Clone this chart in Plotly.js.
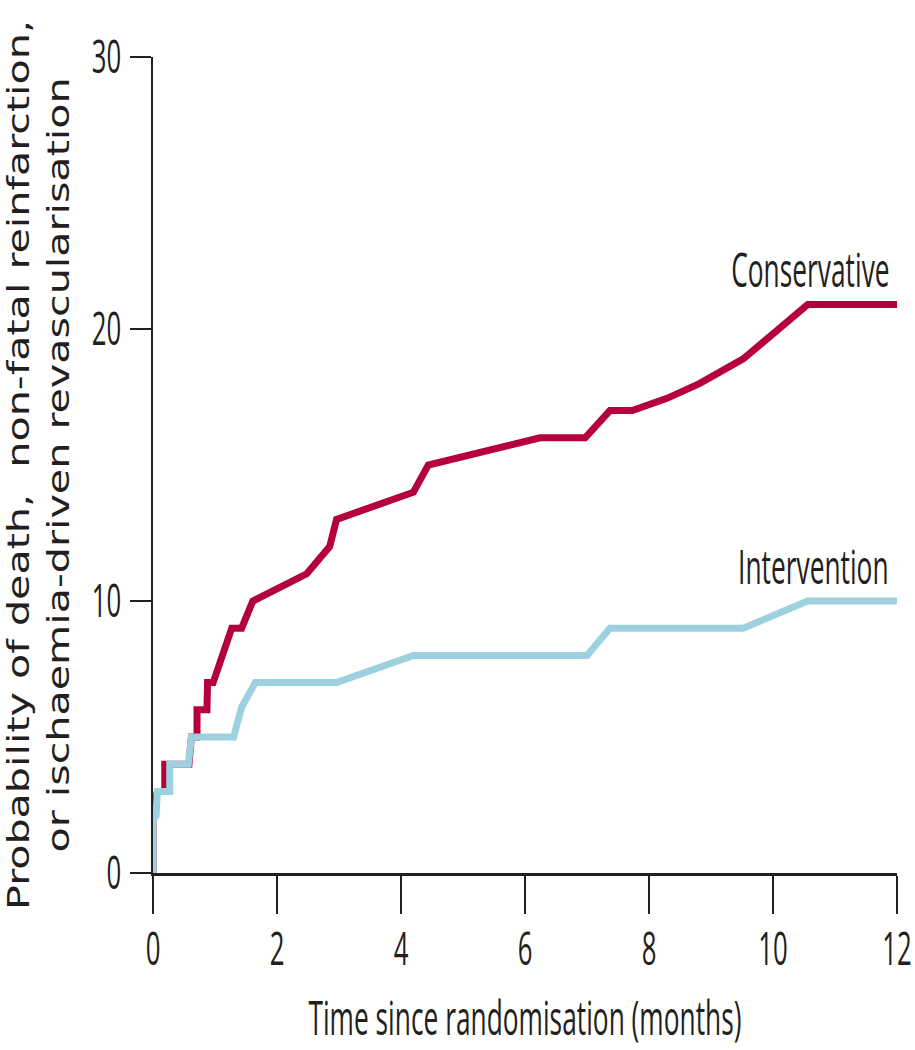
<!DOCTYPE html>
<html>
<head>
<meta charset="utf-8">
<script src="https://cdn.plot.ly/plotly-3.0.1.min.js"></script>
<style>
  html, body { margin: 0; padding: 0; background: #ffffff; }
  #chart { width: 915px; height: 1050px; }
</style>
</head>
<body>
<div id="chart"></div>
<script>
// Kaplan-Meier style cumulative event curves (%), time in months
const consTime = [0, 0, 0.07, 0.19, 0.19, 0.58, 0.62, 0.71, 0.71, 0.87, 0.88, 0.97, 1.27, 1.43, 1.61, 2.48, 2.85, 2.96, 4.2, 4.44, 6.24, 6.97, 7.37, 7.73, 8.29, 8.82, 9.52, 10.56, 12];
const consRisk = [0, 2.2, 3.0, 3.0, 4.0, 4.0, 5.0, 5.0, 6.0, 6.0, 7.0, 7.0, 9.0, 9.0, 10.0, 11.0, 12.0, 13.0, 14.0, 15.0, 16.0, 16.0, 17.0, 17.0, 17.45, 18.0, 18.9, 20.9, 20.9];

const intTime = [0, 0, 0.05, 0.07, 0.27, 0.27, 0.57, 0.62, 1.3, 1.43, 1.65, 2.96, 4.2, 7.0, 7.37, 9.52, 10.56, 12];
const intRisk = [0, 2.0, 2.1, 3.0, 3.0, 4.0, 4.0, 5.0, 5.0, 6.1, 7.0, 7.0, 8.0, 8.0, 9.0, 9.0, 10.0, 10.0];

const xTicks = [0, 2, 4, 6, 8, 10, 12];
const yTicks = [0, 10, 20, 30];

const groupNames = ['Conservative', 'Intervention'];
const groupLabelPos = [[10.6, 22.2], [10.65, 11.3]];

const RED = '#b5003b';
const BLUE = '#9dd1e0';
const INK = '#231f20';
const NARROW = 'Open Sans, Noto Sans, sans-serif';

const traces = [
  { x: consTime, y: consRisk, name: groupNames[0], mode: 'lines',
    line: { color: RED, width: 7, shape: 'linear' }, hoverinfo: 'x+y' },
  { x: intTime, y: intRisk, name: groupNames[1], mode: 'lines',
    line: { color: BLUE, width: 7, shape: 'linear' }, hoverinfo: 'x+y' }
];

const axisCommon = {
  showgrid: false, zeroline: false, showline: true,
  linecolor: INK, linewidth: 2.5,
  ticks: 'outside', tickcolor: INK, tickwidth: 2.5,
  tickfont: { family: NARROW, size: 46, color: INK },
  ticklabeloverflow: 'allow',
  layer: 'below traces', fixedrange: true
};

const layout = {
  width: 915, height: 1050,
  margin: { l: 153, r: 18, t: 57, b: 177 },
  paper_bgcolor: '#ffffff', plot_bgcolor: '#ffffff',
  showlegend: false,
  xaxis: Object.assign({}, axisCommon, {
    range: [0, 12], tickvals: xTicks, ticktext: xTicks.map(String),
    ticklen: 38, ticklabelstandoff: -4,
    title: { text: 'Time since randomisation (months)', standoff: 26,
             font: { family: NARROW, size: 47, color: INK } }
  }),
  yaxis: Object.assign({}, axisCommon, {
    range: [0, 30], tickvals: yTicks, ticktext: yTicks.map(String),
    ticklen: 21, ticklabelstandoff: -1,
    title: { text: 'Probability of death,\u00a0 non-fatal reinfarction,<br>or ischaemia-driven revascularisation',
             standoff: 10,
             font: { family: 'DejaVu Sans, Verdana, sans-serif', size: 31, color: INK } }
  }),
  annotations: groupNames.map((name, i) => ({
    x: groupLabelPos[i][0], y: groupLabelPos[i][1], xref: 'x', yref: 'y',
    text: name, showarrow: false, xanchor: 'center', yanchor: 'middle',
    font: { family: NARROW, size: 47, color: INK }
  }))
};

// Narrow typeface: squeeze glyph advance while keeping each label's anchor point
function fitLength(el, factor) {
  if (!el.dataset.natural) el.dataset.natural = el.getComputedTextLength();
  const w = parseFloat(el.dataset.natural);
  if (!(w > 0)) return;
  el.setAttribute('textLength', (w * factor).toFixed(2));
  el.setAttribute('lengthAdjust', 'spacingAndGlyphs');
}

function restyleText(gd) {
  gd.querySelectorAll('.xtick text, .ytick text, text.annotation-text, text.xtitle')
    .forEach(t => fitLength(t, 0.56));
  const ytitle = gd.querySelector('text.ytitle');
  if (ytitle) {
    const lines = ytitle.querySelectorAll('tspan.line');
    if (lines.length) lines.forEach(l => fitLength(l, 1.33));
    else fitLength(ytitle, 1.33);
  }
}

const gd = document.getElementById('chart');
Plotly.newPlot(gd, traces, layout, { displayModeBar: false, staticPlot: true })
  .then(() => {
    restyleText(gd);
    gd.on('plotly_afterplot', () => restyleText(gd));
  });
</script>
</body>
</html>
